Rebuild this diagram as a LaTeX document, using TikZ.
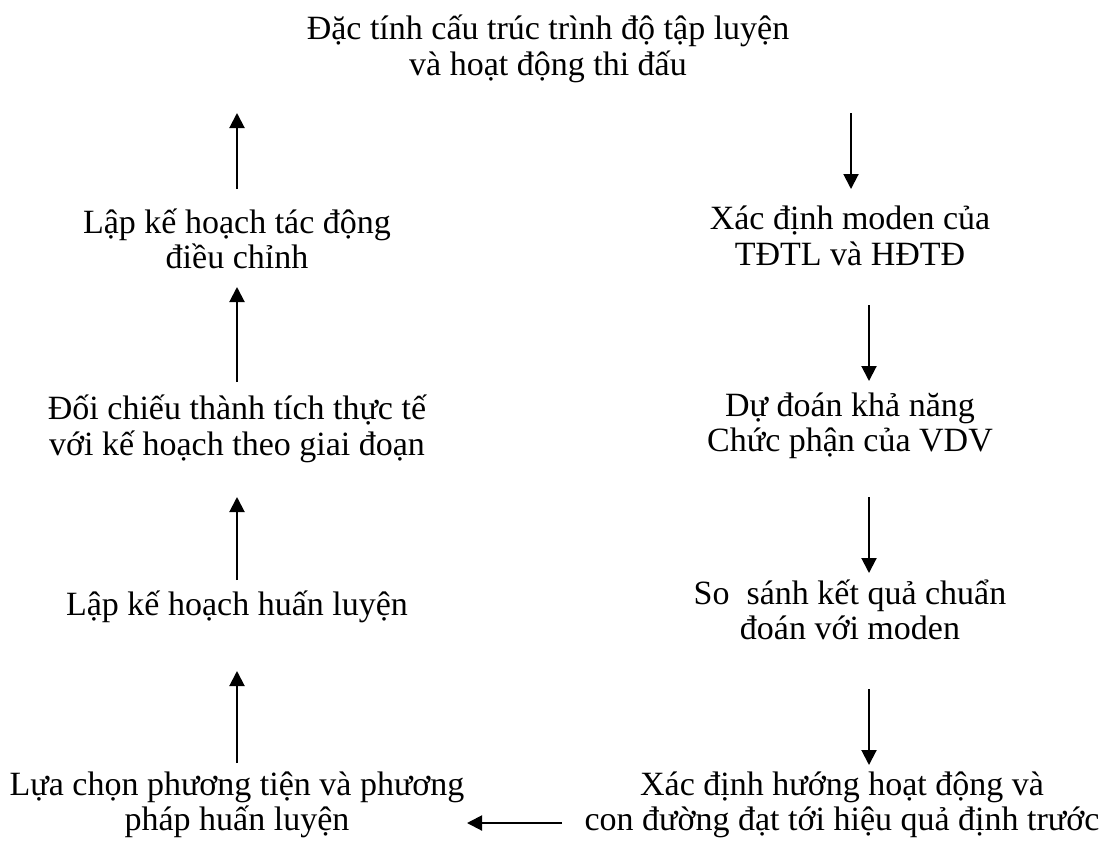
\documentclass[tikz,border=0pt]{standalone}
\usepackage{fontspec}
\setmainfont{Liberation Serif}
\usepackage{tikz}
\usetikzlibrary{arrows.meta}
\usetikzlibrary{positioning}
\tikzstyle{stage} = [align=center, inner sep=0pt, font=\fontsize{34}{35.5}\selectfont]
\tikzstyle{flow} = [draw, line width=2pt, -{Triangle[length=15pt,width=15pt]}]

\begin{document}
\begin{tikzpicture}[x=1pt, y=-1pt]
    \useasboundingbox (0,0) rectangle (1099,849);
    % Top block and the two columns
    \node [stage] (top) at (548,49) {Đặc tính cấu trúc trình độ tập luyện\\và hoạt động thi đấu};
    \node [stage] (moden) at (850,236) {Xác định moden của\\TĐTL và HĐTĐ};
    \node [stage] (dudoan) at (850,426) {Dự đoán khả năng\\Chức phận của VDV};
    \node [stage] (sosanh) at (850,610) {So\ \ sánh kết quả chuẩn\\đoán với moden};
    \node [stage] (huong) at (842,805) {Xác định hướng hoạt động và\\con đường đạt tới hiệu quả định trước};
    \node [stage] (luachon) at (237,805) {Lựa chọn phương tiện và phương\\pháp huấn luyện};
    \node [stage] (lapkh) at (237,607) {Lập kế hoạch huấn luyện};
    \node [stage] (doichieu) at (237,429) {Đối chiếu thành tích thực tế\\với kế hoạch theo giai đoạn};
    \node [stage] (dieuchinh) at (237,239) {Lập kế hoạch tác động\\điều chỉnh};

    % Right column, going down (gaps kept with shorten)
    \draw [flow, shorten <=64pt, shorten >=47pt] ([xshift=1pt]top.center -| moden.center) -- ([xshift=1pt]moden.center);
    \draw [flow, shorten <=69pt, shorten >=45pt] ([xshift=19pt]moden.center) -- ([xshift=19pt]dudoan.center);
    \draw [flow, shorten <=71pt, shorten >=37pt] ([xshift=19pt]dudoan.center) -- ([xshift=19pt]sosanh.center);
    \draw [flow, shorten <=79pt, shorten >=40pt] ([xshift=19pt]sosanh.center) -- ([xshift=19pt]sosanh.center |- huong.center);
    % Across the bottom
    \draw [flow, shorten <=280pt, shorten >=230pt] ([yshift=-18pt]huong.center) -- ([yshift=-18pt]luachon.center);
    % Left column, going up
    \draw [flow, shorten <=42pt, shorten >=64pt] (luachon.center) -- (lapkh.center);
    \draw [flow, shorten <=27pt, shorten >=68pt] (lapkh.center) -- (doichieu.center);
    \draw [flow, shorten <=47pt, shorten >=48pt] (doichieu.center) -- (dieuchinh.center);
    \draw [flow, shorten <=50pt, shorten >=64pt] (dieuchinh.center) -- (dieuchinh.center |- top.center);
\end{tikzpicture}
\end{document}
